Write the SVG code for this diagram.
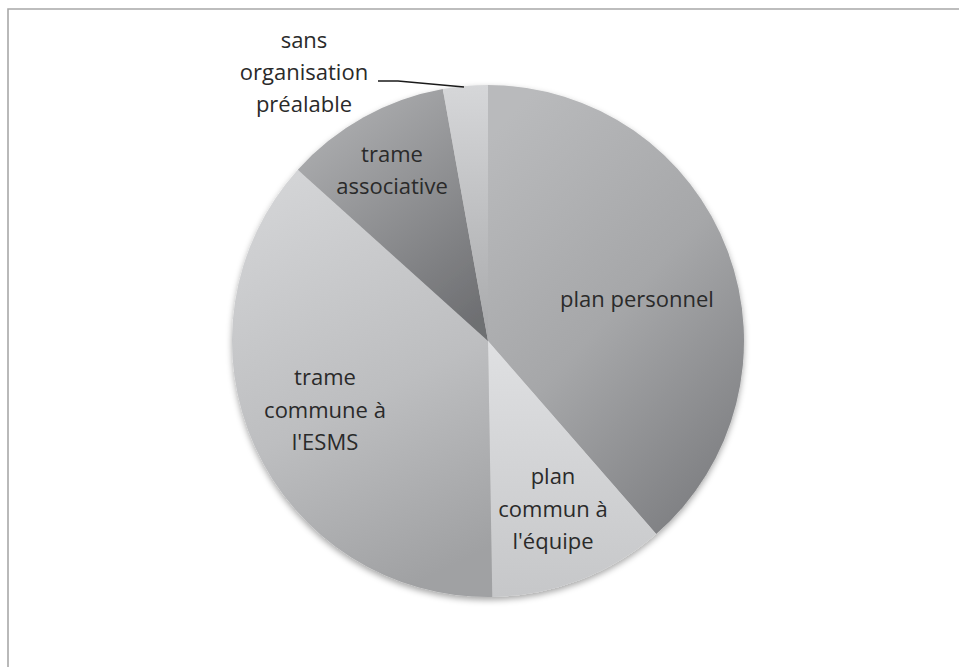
<svg xmlns="http://www.w3.org/2000/svg" width="959" height="667" viewBox="0 0 959 667">
<style>
  text { font-family: "Open Sans", "Liberation Sans", sans-serif; font-size: 22px; fill: #2a2a2a; text-anchor: middle; }
  .frame { fill: none; stroke: #a8a8a8; stroke-width: 1.6; }
  .leader { fill: none; stroke: #1a1a1a; stroke-width: 1.6; }
</style>
<defs>
  <filter id="shadow" x="-10%" y="-10%" width="120%" height="125%">
    <feDropShadow dx="0" dy="3" stdDeviation="3" flood-color="#000" flood-opacity="0.35"/>
  </filter>
  <linearGradient id="gPers" x1="0.2" y1="0" x2="0.8" y2="1">
    <stop offset="0" stop-color="#b9babc"/>
    <stop offset="0.5" stop-color="#a6a7a9"/>
    <stop offset="1" stop-color="#7c7d80"/>
  </linearGradient>
  <linearGradient id="gEquipe" x1="0" y1="0" x2="0" y2="1">
    <stop offset="0" stop-color="#dfe0e2"/>
    <stop offset="1" stop-color="#c6c7c9"/>
  </linearGradient>
  <linearGradient id="gEsms" x1="0.3" y1="0" x2="0.6" y2="1">
    <stop offset="0" stop-color="#d3d4d6"/>
    <stop offset="0.55" stop-color="#bdbec0"/>
    <stop offset="1" stop-color="#a0a1a3"/>
  </linearGradient>
  <linearGradient id="gAssoc" x1="0.2" y1="0" x2="0.8" y2="1">
    <stop offset="0" stop-color="#b0b1b3"/>
    <stop offset="1" stop-color="#6e6f72"/>
  </linearGradient>
  <linearGradient id="gSans" x1="0" y1="0" x2="0" y2="1">
    <stop offset="0" stop-color="#d6d7d9"/>
    <stop offset="1" stop-color="#a8a9ab"/>
  </linearGradient>
</defs>
<rect x="0" y="0" width="959" height="667" fill="#ffffff"/>
<path class="frame" d="M8,667 L8,9 L959,9"/>
<g id="pie" filter="url(#shadow)">
  <g id="slice-plan-personnel">
    <path d="M488,341 L488,85 A256,256 0 0 1 656.2,534 Z" fill="url(#gPers)"/>
  </g>
  <g id="slice-plan-commun">
    <path d="M488,341 L656.2,534 A256,256 0 0 1 492.3,597 Z" fill="url(#gEquipe)"/>
  </g>
  <g id="slice-trame-commune">
    <path d="M488,341 L492.3,597 A256,256 0 0 1 297.8,169.7 Z" fill="url(#gEsms)"/>
  </g>
  <g id="slice-trame-associative">
    <path d="M488,341 L297.8,169.7 A256,256 0 0 1 442.8,89 Z" fill="url(#gAssoc)"/>
  </g>
  <g id="slice-sans-organisation">
    <path d="M488,341 L442.8,89 A256,256 0 0 1 488,85 Z" fill="url(#gSans)"/>
  </g>
</g>
<g id="connectors">
  <polyline class="leader" points="378,81 398,81 464,87"/>
</g>
<g id="label-plan-personnel">
  <text x="637" y="307">plan personnel</text>
</g>
<g id="label-plan-commun">
  <text x="553" y="484">plan</text>
  <text x="553" y="517">commun à</text>
  <text x="553" y="549">l'équipe</text>
</g>
<g id="label-trame-commune">
  <text x="325" y="385">trame</text>
  <text x="325" y="418">commune à</text>
  <text x="325" y="450">l'ESMS</text>
</g>
<g id="label-trame-associative">
  <text x="392" y="162">trame</text>
  <text x="392" y="194">associative</text>
</g>
<g id="label-sans-organisation">
  <text x="304" y="48">sans</text>
  <text x="304" y="80">organisation</text>
  <text x="304" y="112">préalable</text>
</g>
</svg>
